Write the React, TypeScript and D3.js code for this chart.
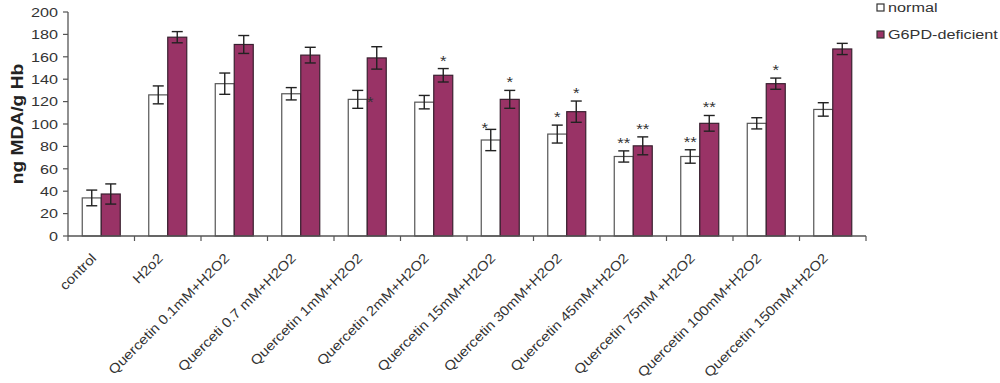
import React from "react";
import * as d3 from "d3";

const categories = [
  "control",
  "H2o2",
  "Quercetin 0.1mM+H2O2",
  "Querceti 0.7 mM+H2O2",
  "Quercetin 1mM+H2O2",
  "Quercetin 2mM+H2O2",
  "Quercetin 15mM+H2O2",
  "Quercetin 30mM+H2O2",
  "Quercetin 45mM+H2O2",
  "Quercetin 75mM +H2O2",
  "Quercetin 100mM+H2O2",
  "Quercetin 150mM+H2O2",
];
const normalValues = [34, 126, 136, 127, 122, 119.5, 85.7, 91, 71, 71, 100.6, 113];
const normalErrors = [7, 8, 9.5, 5.5, 8, 6, 9.5, 8, 5, 6, 5, 6];
const g6pdValues = [37.5, 177.5, 171, 161.5, 159, 143.5, 122, 111, 80.5, 100.6, 136, 167];
const g6pdErrors = [9, 5, 8, 7, 10, 6, 8, 9.5, 8, 7, 5, 5];
const normalSig = ["", "", "", "", "*", "", "*", "*", "**", "**", "", ""];
const g6pdSig = ["", "", "", "", "", "*", "*", "*", "**", "**", "*", ""];
const yTicks = [0, 20, 40, 60, 80, 100, 120, 140, 160, 180, 200];
const seriesNames = ["normal", "G6PD-deficient"];

const PURPLE = "#993366";
const FONT = "'Liberation Sans', Arial, sans-serif";
const SX = 1.2; // horizontal stretch of text seen in the reference
const SXL = 1.12;

export default function App() {
  const W = 1000, H = 383;
  const x0 = 68, x1 = 866, yTop = 12, yBottom = 236;
  const x = d3.scaleBand<string>().domain(categories).range([x0, x1]).paddingInner(0).paddingOuter(0);
  const y = d3.scaleLinear().domain([0, 200]).range([yBottom, yTop]);
  const barW = 19;

  const series = [
    { name: seriesNames[0], values: normalValues, errors: normalErrors, sig: normalSig, fill: "#ffffff", stroke: "#555", off: -barW },
    { name: seriesNames[1], values: g6pdValues, errors: g6pdErrors, sig: g6pdSig, fill: PURPLE, stroke: "#3a2030", off: 0 },
  ];

  const boundaries = categories.map((c) => x(c)!).concat([x1]);

  const starMarks: { key: string; x: number; y: number; text: string }[] = [];
  categories.forEach((c, i) => {
    const cx = x(c)! + x.bandwidth() / 2;
    series.forEach((s) => {
      if (!s.sig[i]) return;
      const bx = cx + s.off;
      const mid = bx + barW / 2;
      const v = s.values[i];
      const topE = y(v + s.errors[i]);
      let sx = mid, sy = topE - 3;
      if (s.off < 0 && i === 4) { sx = bx + barW + 3; sy = y(v) + 8; }
      if (s.off < 0 && i === 6) { sx = mid - 6; sy = topE + 4; }
      starMarks.push({ key: `${c}-${s.name}`, x: sx, y: sy, text: s.sig[i] });
    });
  });

  return (
    <svg width={W} height={H} style={{ position: "absolute", left: 0, top: 0, background: "#fff" }} fontFamily={FONT}>
      {/* y axis */}
      <line x1={x0} x2={x0} y1={yTop} y2={yBottom} stroke="#555" strokeWidth={1.3} />
      {yTicks.map((t) => (
        <g key={t}>
          <line x1={x0 - 5} x2={x0} y1={y(t)} y2={y(t)} stroke="#555" strokeWidth={1.2} />
          <text transform={`translate(${x0 - 10},${y(t)}) scale(${SX},1)`} dy="0.36em" textAnchor="end" fontSize={13.5} fill="#333">{t}</text>
        </g>
      ))}
      <text transform={`translate(23,${124}) rotate(-90) scale(${SX},1)`} textAnchor="middle" fontSize={16} fontWeight="bold" fill="#222">ng MDA/g Hb</text>

      {/* bars */}
      {categories.map((c, i) => {
        const cx = x(c)! + x.bandwidth() / 2;
        return (
          <g key={c}>
            {series.map((s) => {
              const bx = cx + s.off;
              const v = s.values[i];
              const e = s.errors[i];
              const mid = bx + barW / 2;
              return (
                <g key={s.name}>
                  <rect x={bx} y={y(v)} width={barW} height={yBottom - y(v)} fill={s.fill} stroke={s.stroke} strokeWidth={1.2} />
                  <line x1={mid} x2={mid} y1={y(v + e)} y2={y(v - e)} stroke="#222" strokeWidth={1.4} />
                  <line x1={mid - 5.5} x2={mid + 5.5} y1={y(v + e)} y2={y(v + e)} stroke="#222" strokeWidth={1.4} />
                  <line x1={mid - 5.5} x2={mid + 5.5} y1={y(v - e)} y2={y(v - e)} stroke="#222" strokeWidth={1.4} />
                </g>
              );
            })}
          </g>
        );
      })}

      {/* significance marks */}
      {starMarks.map((m) => (
        <text key={m.key} transform={`translate(${m.x},${m.y}) scale(${SX},1)`} textAnchor="middle" fontSize={14} fill="#333">{m.text}</text>
      ))}

      {/* x axis */}
      <line x1={x0} x2={x1} y1={yBottom} y2={yBottom} stroke="#555" strokeWidth={1.3} />
      {boundaries.map((b, i) => (
        <line key={i} x1={b} x2={b} y1={yBottom} y2={yBottom + 5} stroke="#555" strokeWidth={1.2} />
      ))}
      {categories.map((c) => {
        const cx = x(c)! + x.bandwidth() / 2;
        return (
          <text key={c} transform={`translate(${cx - 4},${yBottom + 23}) rotate(-45) scale(${SXL},1)`} textAnchor="end" fontSize={13.5} fill="#333">{c}</text>
        );
      })}

      {/* legend */}
      {series.map((s, i) => (
        <g key={s.name} transform={`translate(877,${4 + i * 27})`}>
          <rect x={0} y={0} width={7} height={7} fill={s.fill} stroke="#333" strokeWidth={1.2} />
          <text transform={`translate(11,${8}) scale(${SX},1)`} fontSize={13.5} fill="#333">{s.name}</text>
        </g>
      ))}
    </svg>
  );
}
